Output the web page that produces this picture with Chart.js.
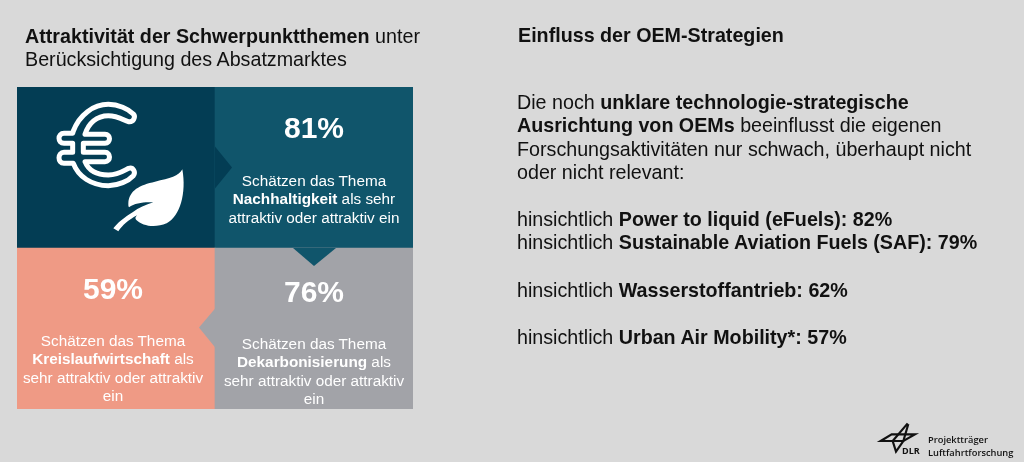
<!DOCTYPE html>
<html lang="de">
<head>
<meta charset="utf-8">
<title>Attraktivität der Schwerpunktthemen</title>
<script src="https://cdn.jsdelivr.net/npm/chart.js@4"></script>
<style>
html, body { margin: 0; padding: 0; background: #d9d9d9; }
body { width: 1024px; height: 462px; overflow: hidden; position: relative; font-family: "Liberation Sans", Arial, sans-serif; }
canvas { position: absolute; left: 0; top: 0; }
.txt { position: absolute; white-space: nowrap; color: #111; }
.title { font-size: 19.7px; line-height: 23px; }
.body { font-size: 19.7px; line-height: 23.4px; }
.pct { font-size: 30px; font-weight: bold; color: #fff; text-align: center; width: 198px; line-height: 34px; }
.tile { font-size: 15.3px; line-height: 18.4px; color: #fff; text-align: center; width: 198px; }
.logo { font-family: "Open Sans", sans-serif; font-weight: 600; font-size: 9.3px; line-height: 12.5px; color: #111; }
.dlr { font-family: "Open Sans", sans-serif; font-weight: 700; font-size: 9px; line-height: 12.5px; color: #111; }
</style>
</head>
<body>
<canvas id="tiles" width="1024" height="462"></canvas>
<div id="texts"></div>
<script>
// Kacheln: zwei Spalten, zwei Zeilen
const columns = ['links', 'rechts'];
const topRow = [1, 1];
const bottomRow = [1, 1];
const topColors = ['#033d54', '#10556b'];
const bottomColors = ['#ef9a85', '#a2a3a8'];

// Werte aus dem Bild
const tileThemes = ['Nachhaltigkeit', 'Kreislaufwirtschaft', 'Dekarbonisierung'];
const tileValues = [81, 59, 76];
const oemTopics = ['Power to liquid (eFuels)', 'Sustainable Aviation Fuels (SAF)', 'Wasserstoffantrieb', 'Urban Air Mobility*'];
const oemValues = [82, 79, 62, 57];

function addText(cls, left, top, html) {
    const div = document.createElement('div');
    div.className = 'txt ' + cls;
    div.style.left = left + 'px';
    div.style.top = top + 'px';
    div.innerHTML = html;
    document.getElementById('texts').appendChild(div);
}

// Titel
addText('title', 25, 25, '<b>Attraktivität der Schwerpunktthemen</b> unter<br>Berücksichtigung des Absatzmarktes');
addText('title', 518, 24, '<b>Einfluss der OEM-Strategien</b>');

// Kacheltexte
addText('pct', 215, 111, tileValues[0] + '%');
addText('pct', 14, 272, tileValues[1] + '%');
addText('pct', 215, 275, tileValues[2] + '%');
addText('tile', 215, 172, 'Schätzen das Thema<br><b>' + tileThemes[0] + '</b> als sehr<br>attraktiv oder attraktiv ein');
addText('tile', 14, 332, 'Schätzen das Thema<br><b>' + tileThemes[1] + '</b> als<br>sehr attraktiv oder attraktiv<br>ein');
addText('tile', 215, 335, 'Schätzen das Thema<br><b>' + tileThemes[2] + '</b> als<br>sehr attraktiv oder attraktiv<br>ein');

// rechte Spalte
addText('body', 517, 91, 'Die noch <b>unklare technologie-strategische</b><br><b>Ausrichtung von OEMs</b> beeinflusst die eigenen<br>Forschungsaktivitäten nur schwach, überhaupt nicht<br>oder nicht relevant:');
addText('body', 517, 208, 'hinsichtlich <b>' + oemTopics[0] + ': ' + oemValues[0] + '%</b><br>hinsichtlich <b>' + oemTopics[1] + ': ' + oemValues[1] + '%</b>');
addText('body', 517, 279, 'hinsichtlich <b>' + oemTopics[2] + ': ' + oemValues[2] + '%</b>');
addText('body', 517, 326, 'hinsichtlich <b>' + oemTopics[3] + ': ' + oemValues[3] + '%</b>');

// Logo
addText('logo', 928, 434, 'Projektträger<br>Luftfahrtforschung');
addText('dlr', 902, 445, 'DLR');

function triangle(ctx, color, a, b, c) {
    ctx.fillStyle = color;
    ctx.beginPath();
    ctx.moveTo(a[0], a[1]);
    ctx.lineTo(b[0], b[1]);
    ctx.lineTo(c[0], c[1]);
    ctx.closePath();
    ctx.fill();
}

// Koordinaten der Symbole stammen aus den 3x-Ausschnitten
function drawEuro(ctx) {
    ctx.save();
    ctx.translate(50, 95);
    ctx.scale(1 / 3, 1 / 3);
    ctx.strokeStyle = '#fff';
    ctx.lineWidth = 15;
    ctx.lineJoin = 'round';
    ctx.stroke(new Path2D('M70 108 C88 60 130 28 175 28 C205 28 235 42 250 57 C258 66 250 82 236 80 C225 78 205 62 175 62 C140 62 115 85 105 118 L165 118 C183 118 183 145 165 145 L100 145 L100 172 L165 172 C183 172 183 200 165 200 L105 200 C115 225 140 240 175 240 C205 240 225 225 236 220 C250 216 258 232 250 242 C235 258 205 272 175 272 C125 272 85 245 70 205 L42 205 C22 205 22 172 42 172 L68 172 L68 145 L42 145 C22 145 22 115 42 115 L68 115 Z'));
    ctx.restore();
}

function drawLeaf(ctx) {
    ctx.save();
    ctx.translate(105, 160);
    ctx.scale(1 / 3, 1 / 3);
    ctx.fillStyle = '#fff';
    ctx.fill(new Path2D('M232 28 C222 48 195 55 150 65 C105 75 72 90 70 130 C70 136 70 139 72 142 C90 128 120 125 145 127 C122 134 100 144 84 156 C58 172 36 190 25 205 L40 214 C52 196 70 180 96 166 C90 172 90 176 94 180 C112 198 150 205 185 190 C225 170 245 100 232 28 Z'));
    ctx.restore();
}

function drawLogo(ctx) {
    ctx.save();
    ctx.translate(870, 415);
    ctx.scale(1 / 3, 1 / 3);
    ctx.strokeStyle = '#111';
    ctx.lineWidth = 6.5;
    ctx.lineJoin = 'miter';
    ctx.stroke(new Path2D('M32 78 L65 58 L135 58 L100 78 Z'));
    ctx.stroke(new Path2D('M113 25 L68 78 L78 110 L100 78 L115 27'));
    ctx.restore();
}

const decorations = {
    id: 'decorations',
    afterDatasetsDraw(chart) {
        const ctx = chart.ctx;
        const x = chart.scales.x;
        const y = chart.scales.y;
        const midX = (x.left + x.right) / 2;
        const midY = y.getPixelForValue(1);
        const upper = y.getPixelForValue(1.5);
        const lower = y.getPixelForValue(0.5);
        const right = x.getPixelForValue(1);
        triangle(ctx, topColors[0], [midX, upper - 21], [midX + 17, upper], [midX, upper + 21]);
        triangle(ctx, topColors[1], [right - 21, midY], [right, midY + 18], [right + 22, midY]);
        triangle(ctx, bottomColors[1], [midX + 1, lower - 21], [midX - 16, lower - 1], [midX + 1, lower + 20]);
        drawEuro(ctx);
        drawLeaf(ctx);
        drawLogo(ctx);
    }
};

new Chart(document.getElementById('tiles'), {
    type: 'bar',
    data: {
        labels: columns,
        datasets: [
            { data: bottomRow, backgroundColor: bottomColors, borderWidth: 0 },
            { data: topRow, backgroundColor: topColors, borderWidth: 0 }
        ]
    },
    options: {
        responsive: false,
        devicePixelRatio: 1,
        animation: false,
        layout: { padding: { left: 17, right: 611, top: 87, bottom: 53 } },
        datasets: { bar: { barPercentage: 1, categoryPercentage: 1 } },
        scales: {
            x: { display: false, stacked: true },
            y: { display: false, stacked: true, min: 0, max: 2 }
        },
        plugins: { legend: { display: false }, tooltip: { enabled: false } }
    },
    plugins: [decorations]
});
</script>
</body>
</html>
